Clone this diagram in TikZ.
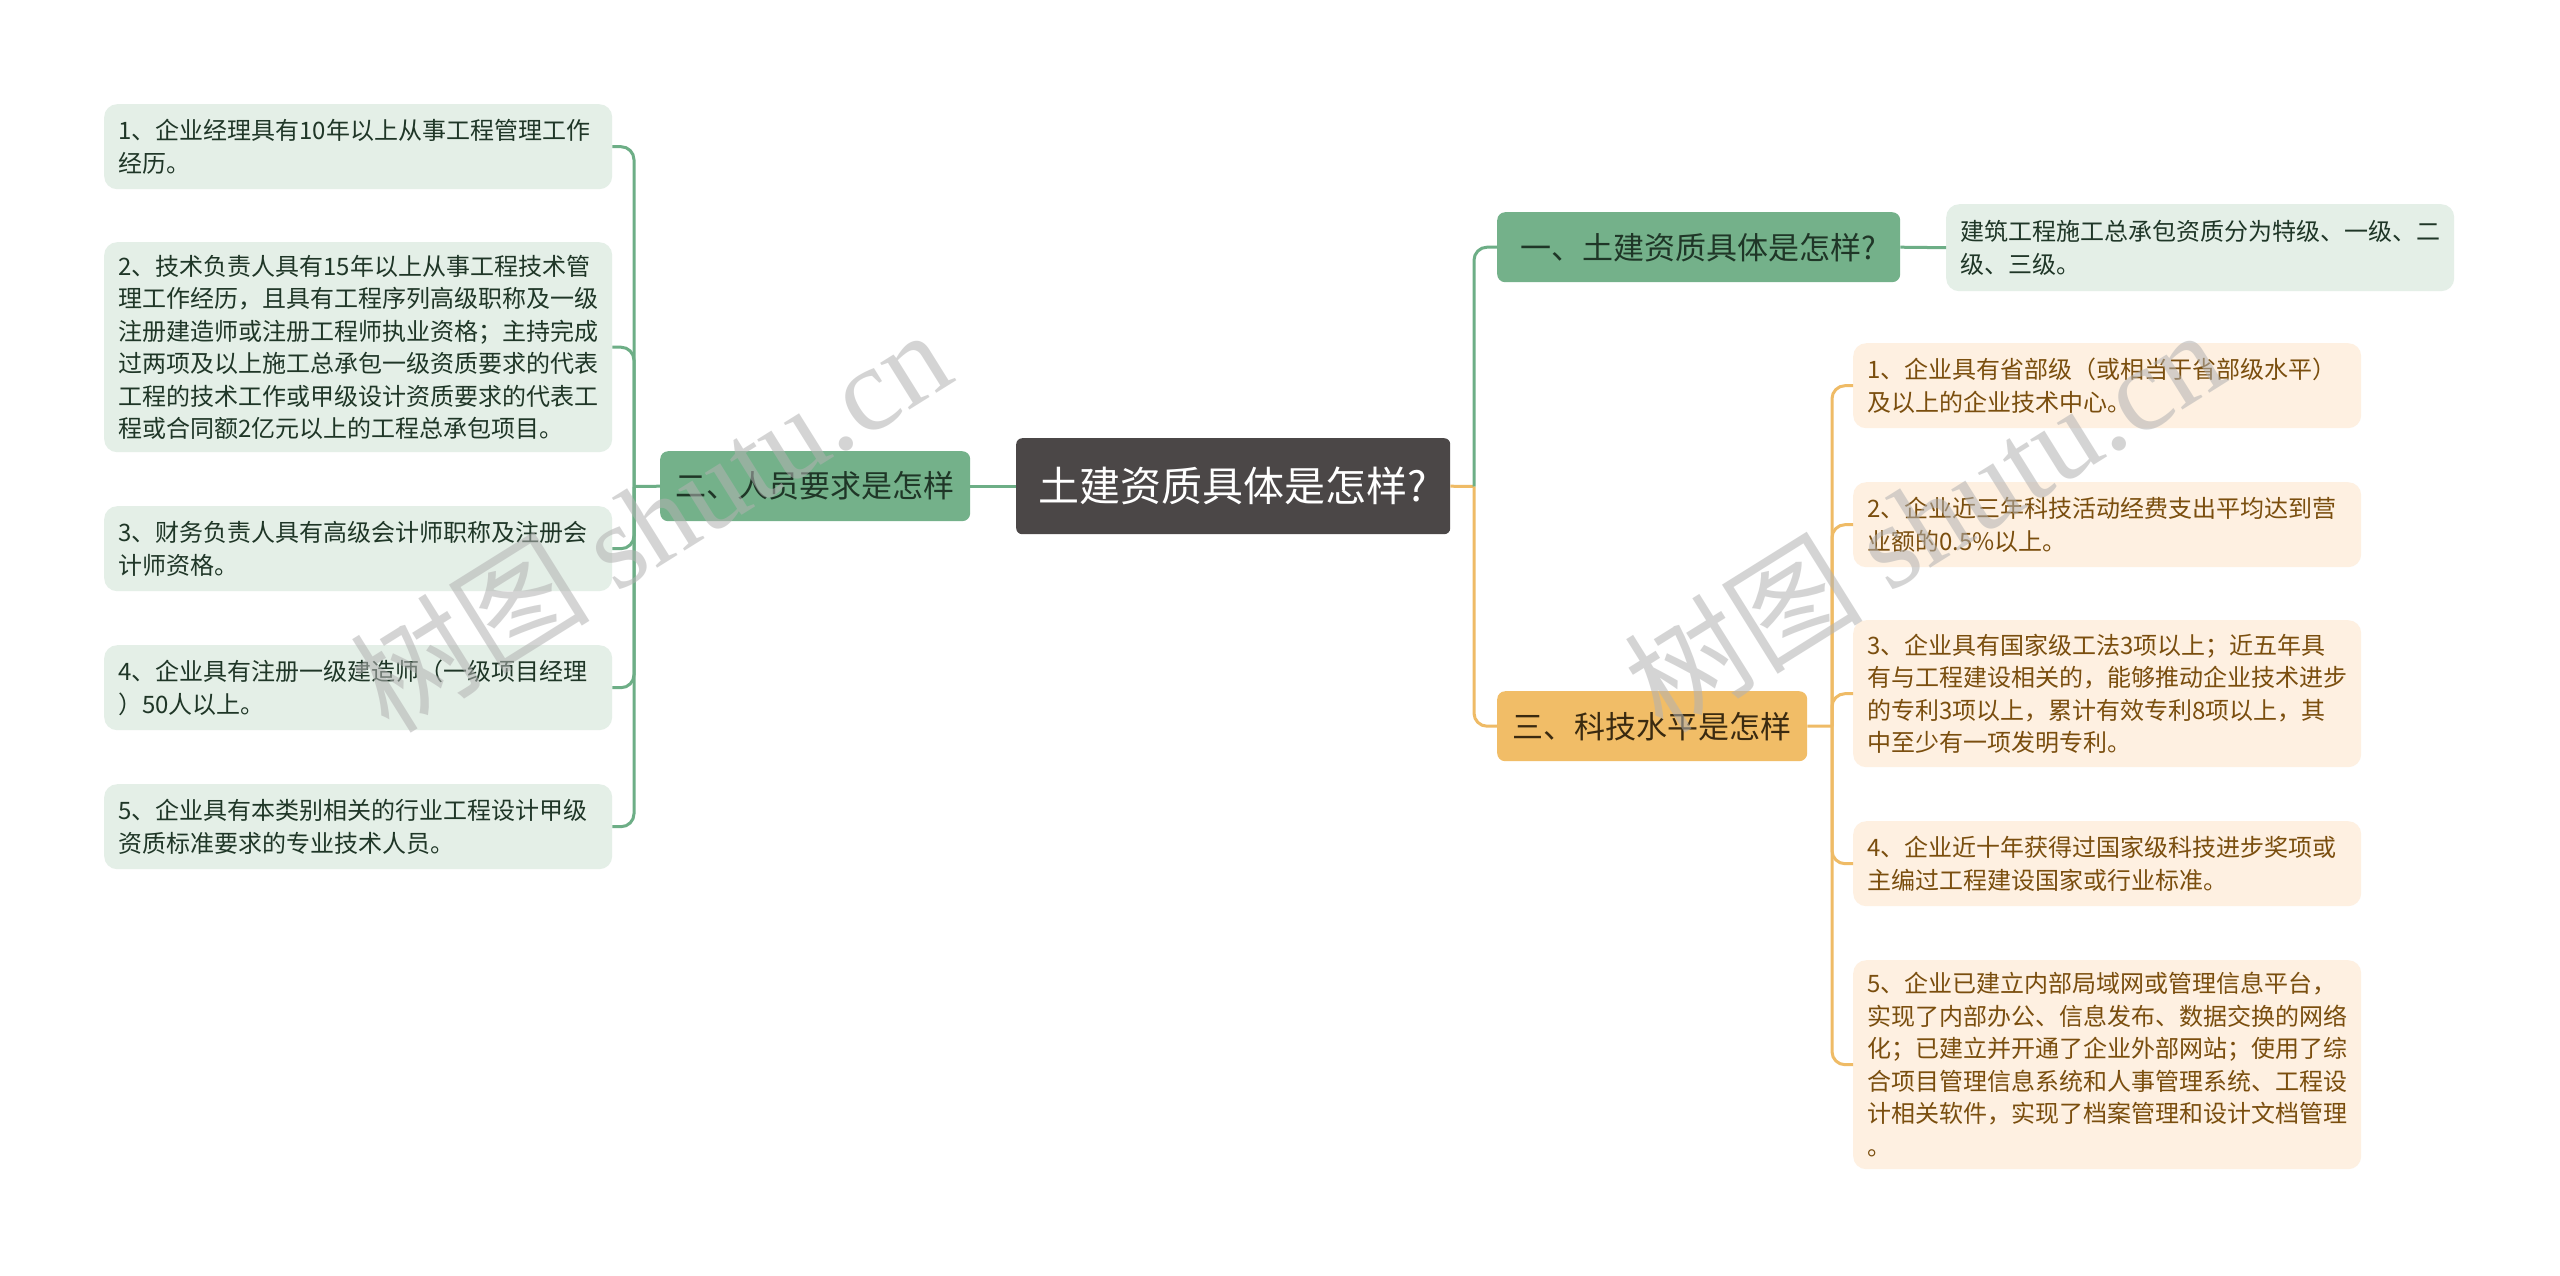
\documentclass[tikz,border=0pt]{standalone}
\usepackage{fontspec}
\setmainfont{Noto Sans CJK SC}
\newfontfamily\wmlatin{Liberation Serif}
\definecolor{rootfill}{HTML}{4B4747}
\definecolor{brgreen}{HTML}{74B18A}
\definecolor{brorange}{HTML}{F1BD67}
\definecolor{lfgreen}{HTML}{E4EFE7}
\definecolor{lforange}{HTML}{FEF0E1}
\definecolor{txgreen}{HTML}{1F3627}
\definecolor{txorange}{HTML}{7A4E0E}
\definecolor{txbrown}{HTML}{3A2A10}
\definecolor{lngreen}{HTML}{6DAE86}
\definecolor{lnorange}{HTML}{EFBB66}
\begin{document}
\begin{tikzpicture}[x=1pt,y=-1pt,
  rootbox/.style={fill=rootfill, rounded corners=6pt, anchor=north west, minimum width=434pt, minimum height=96pt, text=white, font=\fontsize{41}{48}\selectfont, inner sep=0pt},
  brbox/.style={rounded corners=8pt, anchor=north west, minimum height=70pt, font=\fontsize{31}{38}\selectfont, inner sep=0pt},
  leafbox/.style={rounded corners=13pt, anchor=north west, align=left, text width=480pt, inner xsep=14pt, inner ysep=0pt, font=\fontsize{24}{32.5}\selectfont},
  gleaf/.style={leafbox, fill=lfgreen, text=txgreen},
  oleaf/.style={leafbox, fill=lforange, text=txorange},
  gline/.style={draw=lngreen, line width=3pt, rounded corners=13pt},
  oline/.style={draw=lnorange, line width=3pt, rounded corners=13pt},
  wmark/.style={text=gray!60, opacity=0.55, rotate=32, font=\fontsize{120}{130}\selectfont}
]
\useasboundingbox (0,0) rectangle (2560,1275);
\fill[white] (0,0) rectangle (2560,1275);

% root
\node[rootbox] (root) at (1016,438) {土建资质具体是怎样?};

% branches
\node[brbox, fill=brgreen, text=txgreen, minimum width=310pt] (b2) at (660,451) {二、人员要求是怎样};
\node[brbox, fill=brgreen, text=txgreen, minimum width=403pt] (b1) at (1497,212) {一、土建资质具体是怎样?};
\node[brbox, fill=brorange, text=txbrown, minimum width=310pt] (b3) at (1497,691) {三、科技水平是怎样};

% left leaves
\node[gleaf, minimum height=85pt] (l1) at (104,104) {1、企业经理具有10年以上从事工程管理工作\\经历。};
\node[gleaf, minimum height=210pt] (l2) at (104,242) {2、技术负责人具有15年以上从事工程技术管\\理工作经历，且具有工程序列高级职称及一级\\注册建造师或注册工程师执业资格；主持完成\\过两项及以上施工总承包一级资质要求的代表\\工程的技术工作或甲级设计资质要求的代表工\\程或合同额2亿元以上的工程总承包项目。};
\node[gleaf, minimum height=85pt] (l3) at (104,506) {3、财务负责人具有高级会计师职称及注册会\\计师资格。};
\node[gleaf, minimum height=85pt] (l4) at (104,645) {4、企业具有注册一级建造师（一级项目经理\\）50人以上。};
\node[gleaf, minimum height=85pt] (l5) at (104,784) {5、企业具有本类别相关的行业工程设计甲级\\资质标准要求的专业技术人员。};

% right leaf of branch 1
\node[gleaf, minimum height=87pt] (r1) at (1946,204) {建筑工程施工总承包资质分为特级、一级、二\\级、三级。};

% orange leaves
\node[oleaf, minimum height=85pt] (o1) at (1853,343) {1、企业具有省部级（或相当于省部级水平）\\及以上的企业技术中心。};
\node[oleaf, minimum height=85pt] (o2) at (1853,482) {2、企业近三年科技活动经费支出平均达到营\\业额的0.5\%以上。};
\node[oleaf, minimum height=147pt] (o3) at (1853,620) {3、企业具有国家级工法3项以上；近五年具\\有与工程建设相关的，能够推动企业技术进步\\的专利3项以上，累计有效专利8项以上，其\\中至少有一项发明专利。};
\node[oleaf, minimum height=85pt] (o4) at (1853,821) {4、企业近十年获得过国家级科技进步奖项或\\主编过工程建设国家或行业标准。};
\node[oleaf, minimum height=209pt] (o5) at (1853,960) {5、企业已建立内部局域网或管理信息平台，\\实现了内部办公、信息发布、数据交换的网络\\化；已建立并开通了企业外部网站；使用了综\\合项目管理信息系统和人事管理系统、工程设\\计相关软件，实现了档案管理和设计文档管理\\。};

% junction coordinates
\coordinate (lt) at (634,486.5);
\coordinate (rt) at (1474,486.5);
\coordinate (ot) at (1832,726);

% connectors
\draw[gline] (root.west) -- (b2.east);
\draw[gline, rounded corners=0pt] (b2.west) -- (lt);
\foreach \n in {l1,l2,l3,l4,l5} { \draw[gline] (lt) |- (\n.east); }
\draw[oline, rounded corners=0pt] (root.east) -- (rt);
\draw[gline] (rt) |- (b1.west);
\draw[oline] (rt) |- (b3.west);
\draw[gline] (b1.east) -- (r1.west);
\draw[oline, rounded corners=0pt] (b3.east) -- (ot);
\foreach \n in {o1,o2,o3,o4,o5} { \draw[oline] (ot) |- (\n.west); }

% watermarks
\node[wmark] (wm1) at (650,519) {树图 {\wmlatin shutu.cn}};
\node[wmark] (wm2) at (1923,519) {树图 {\wmlatin shutu.cn}};
\end{tikzpicture}
\end{document}
